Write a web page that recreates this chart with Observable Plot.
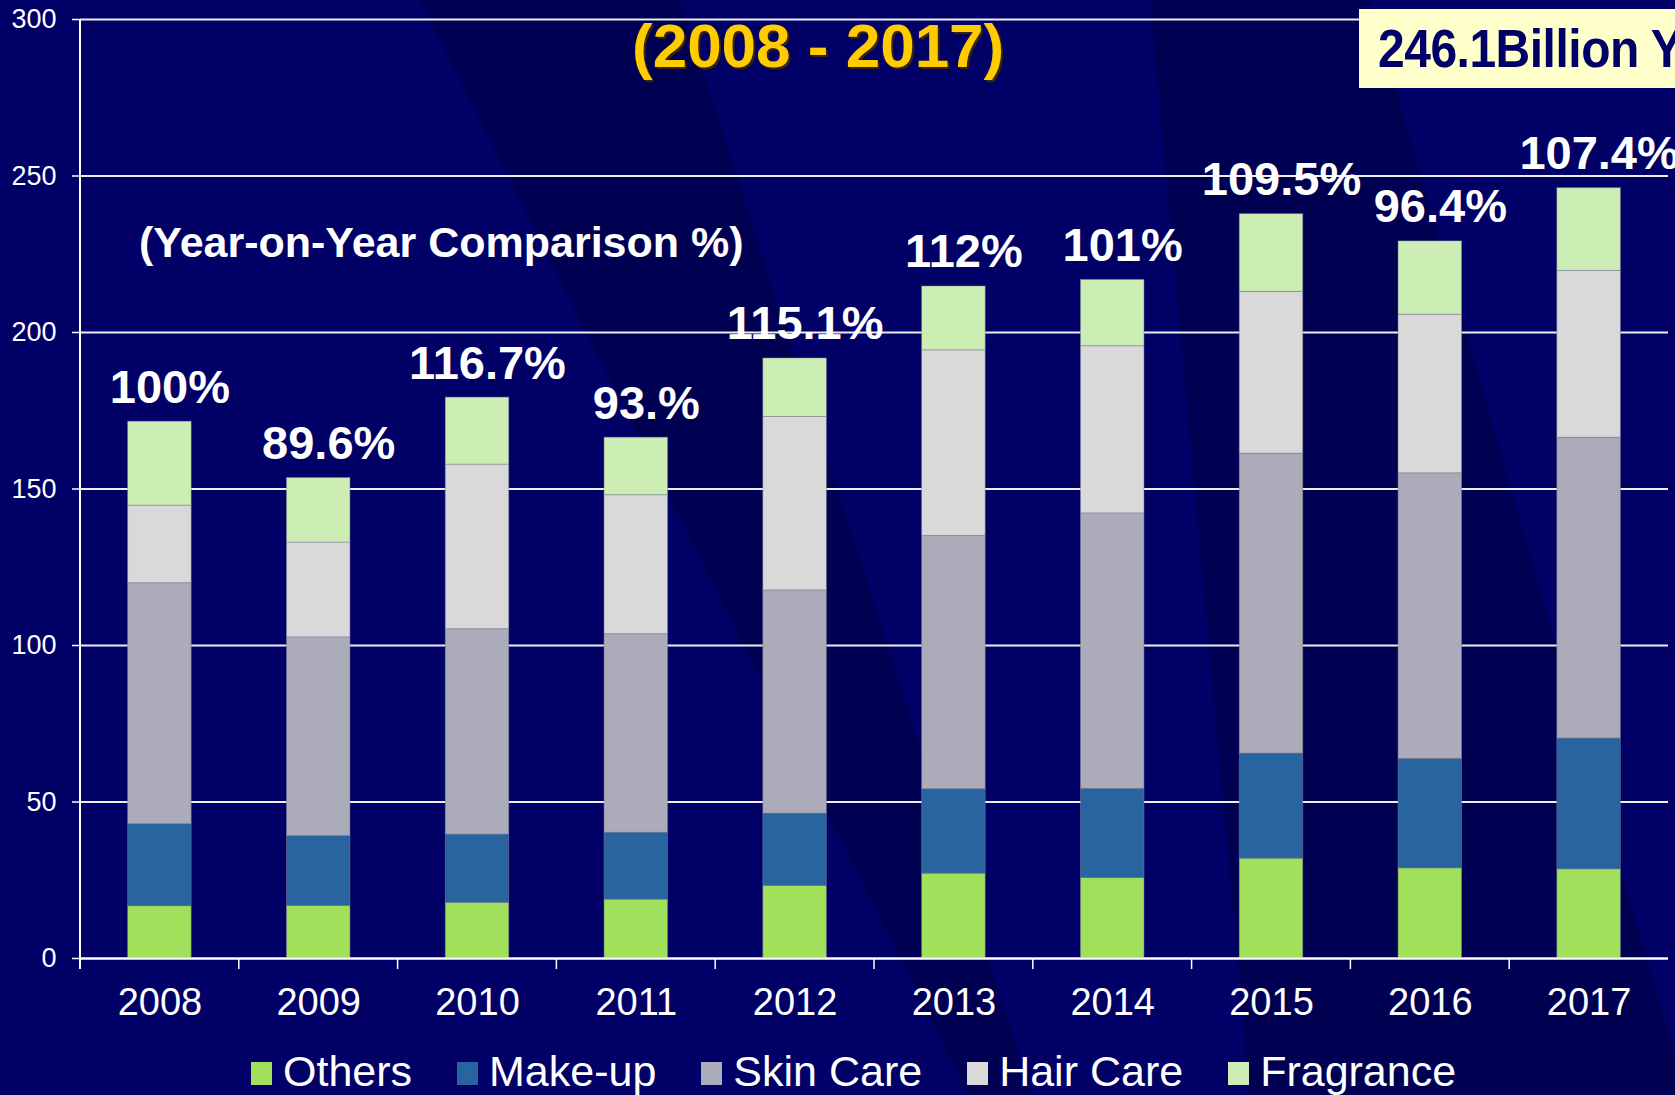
<!DOCTYPE html>
<html>
<head>
<meta charset="utf-8">
<script src="https://cdn.jsdelivr.net/npm/d3@7"></script>
<script src="https://cdn.jsdelivr.net/npm/@observablehq/plot@0.6"></script>
<style>
  html, body { margin: 0; padding: 0; }
  body {
    width: 1675px; height: 1095px; overflow: hidden; position: relative;
    background: #000066;
    font-family: Arial, "Liberation Sans", sans-serif;
  }
  .band { position: absolute; left: 0; top: 0; width: 1675px; height: 1095px; background: rgba(0,0,40,0.3); }
  #bandA { clip-path: polygon(420px 0, 680px 0, 1032px 1095px, 968px 1095px); }
  #bandB { clip-path: polygon(1150px 0, 1370px 0, 1686px 1095px, 1250px 1095px); }
  #chart { position: absolute; left: 0; top: 0; }
  #title {
    position: absolute; left: 632px; top: 10px; margin: 0;
    font-size: 62px; font-weight: bold; color: #FFCC00; white-space: nowrap;
    text-shadow: 2px 2px 1px rgba(70,45,0,0.85);
  }
  #total {
    position: absolute; left: 1359px; top: 9px; width: 316px; height: 79px;
    background: #FFFFCC; overflow: hidden; box-sizing: border-box;
    padding-left: 19px; display: flex; align-items: center;
  }
  #total span {
    font-size: 48px; font-weight: bold; color: #000066; white-space: nowrap;
    display: inline-block; transform: scaleY(1.1); letter-spacing: -0.5px;
  }
  #subtitle {
    position: absolute; left: 139px; top: 218px; margin: 0;
    font-size: 43px; font-weight: bold; color: white; white-space: nowrap;
  }
  #legend {
    position: absolute; left: 251px; top: 1046px; height: 50px;
    display: flex; align-items: center; color: white; font-size: 43px; white-space: nowrap;
  }
  #legend .item { display: flex; align-items: center; margin-right: 45px; }
  #legend .sw { width: 21px; height: 23px; margin-right: 11px; margin-top: 4px; }
</style>
</head>
<body>
<div class="band" id="bandA"></div>
<div class="band" id="bandB"></div>
<div id="chart"></div>
<div id="title">(2008 - 2017)</div>
<div id="total"><span>246.1Billion Y</span></div>
<div id="subtitle">(Year-on-Year Comparison %)</div>
<div id="legend"></div>
<script>
// ---- Data ----
const years = ["2008", "2009", "2010", "2011", "2012", "2013", "2014", "2015", "2016", "2017"];
const categories = ["Others", "Make-up", "Skin Care", "Hair Care", "Fragrance"];
const others    = [16.7, 16.8, 17.8, 18.8, 23.2, 27.1, 25.7, 31.9, 28.8, 28.5];
const makeup    = [26.2, 22.3, 21.8, 21.4, 23.1, 27.0, 28.5, 33.6, 35.0, 41.8];
const skinCare  = [77.0, 63.5, 65.6, 63.4, 71.3, 80.9, 88.0, 95.8, 91.2, 96.1];
const hairCare  = [24.8, 30.3, 52.6, 44.4, 55.4, 59.3, 53.4, 51.7, 50.7, 53.3];
const fragrance = [26.8, 20.6, 21.4, 18.4, 18.7, 20.4, 21.2, 24.8, 23.4, 26.4];
const yoyLabels = ["100%", "89.6%", "116.7%", "93.%", "115.1%", "112%", "101%", "109.5%", "96.4%", "107.4%"];
const yTicks = [0, 50, 100, 150, 200, 250, 300];
const colors = ["#A0E05A", "#2864A0", "#ABABB9", "#D9D9D9", "#CCEEB5"];

const series = [others, makeup, skinCare, hairCare, fragrance];
const rows = [];
years.forEach((yr, i) => {
  categories.forEach((c, k) => rows.push({year: yr, category: c, value: series[k][i]}));
});
const totals = years.map((yr, i) => ({
  year: yr,
  total: d3.sum(series, s => s[i]),
  label: yoyLabels[i]
}));

// custom axis decorations derived from the scales: y-axis line and x boundary ticks
function axisDecor(index, scales, values, dimensions) {
  const x = scales.x, y = scales.y;
  const bw = x.bandwidth ? x.bandwidth() : 0;
  const centers = years.map(v => x(v) + bw / 2);
  const stepPx = centers[1] - centers[0];
  const bounds = centers.map(c => c - stepPx / 2);
  const y0 = y(0), yTop = y(300);
  const g = d3.create("svg:g").attr("stroke", "white").attr("stroke-width", 2);
  g.append("line").attr("x1", bounds[0]).attr("x2", bounds[0]).attr("y1", yTop).attr("y2", y0 + 11);
  for (const b of bounds) {
    g.append("line").attr("x1", b).attr("x2", b).attr("y1", y0).attr("y2", y0 + 11).attr("stroke-width", 1.5);
  }
  return g.node();
}

const plot = Plot.plot({
  width: 1675,
  height: 1030,
  marginTop: 19,
  marginLeft: 80,
  marginRight: 7,
  marginBottom: 72,
  style: {background: "transparent", color: "white", fontFamily: "Arial, 'Liberation Sans', sans-serif", overflow: "visible"},
  x: {type: "band", domain: years, paddingInner: 0.6, paddingOuter: 0.3, round: false, label: null},
  y: {domain: [0, 300], label: null},
  color: {domain: categories, range: colors},
  marks: [
    Plot.gridY(yTicks, {stroke: "#EEEEEE", strokeOpacity: 1, strokeWidth: 2}),
    Plot.barY(rows, {x: "year", y: "value", fill: "category", order: categories,
      stroke: "#7f7f96", strokeWidth: 0.8, strokeOpacity: 0.6}),
    Plot.ruleY([0], {stroke: "white", strokeWidth: 2}),
    axisDecor,
    Plot.axisY(yTicks, {tickSize: 8, tickPadding: 16, fontSize: 27, stroke: "white", fill: "white", strokeWidth: 1.5, label: null}),
    Plot.axisX({tickSize: 0, tickPadding: 30, fontSize: 38, fill: "white", label: null}),
    Plot.text(totals, {x: "year", y: "total", text: "label", lineAnchor: "bottom", dy: -19, dx: 10,
      fontSize: 47, fontWeight: "bold", fill: "white"})
  ]
});
document.getElementById("chart").appendChild(plot);

// legend
const legend = document.getElementById("legend");
categories.forEach((c, k) => {
  const item = document.createElement("div");
  item.className = "item";
  const sw = document.createElement("div");
  sw.className = "sw";
  sw.style.background = colors[k];
  const t = document.createElement("span");
  t.textContent = c;
  item.appendChild(sw);
  item.appendChild(t);
  legend.appendChild(item);
});
</script>
</body>
</html>
